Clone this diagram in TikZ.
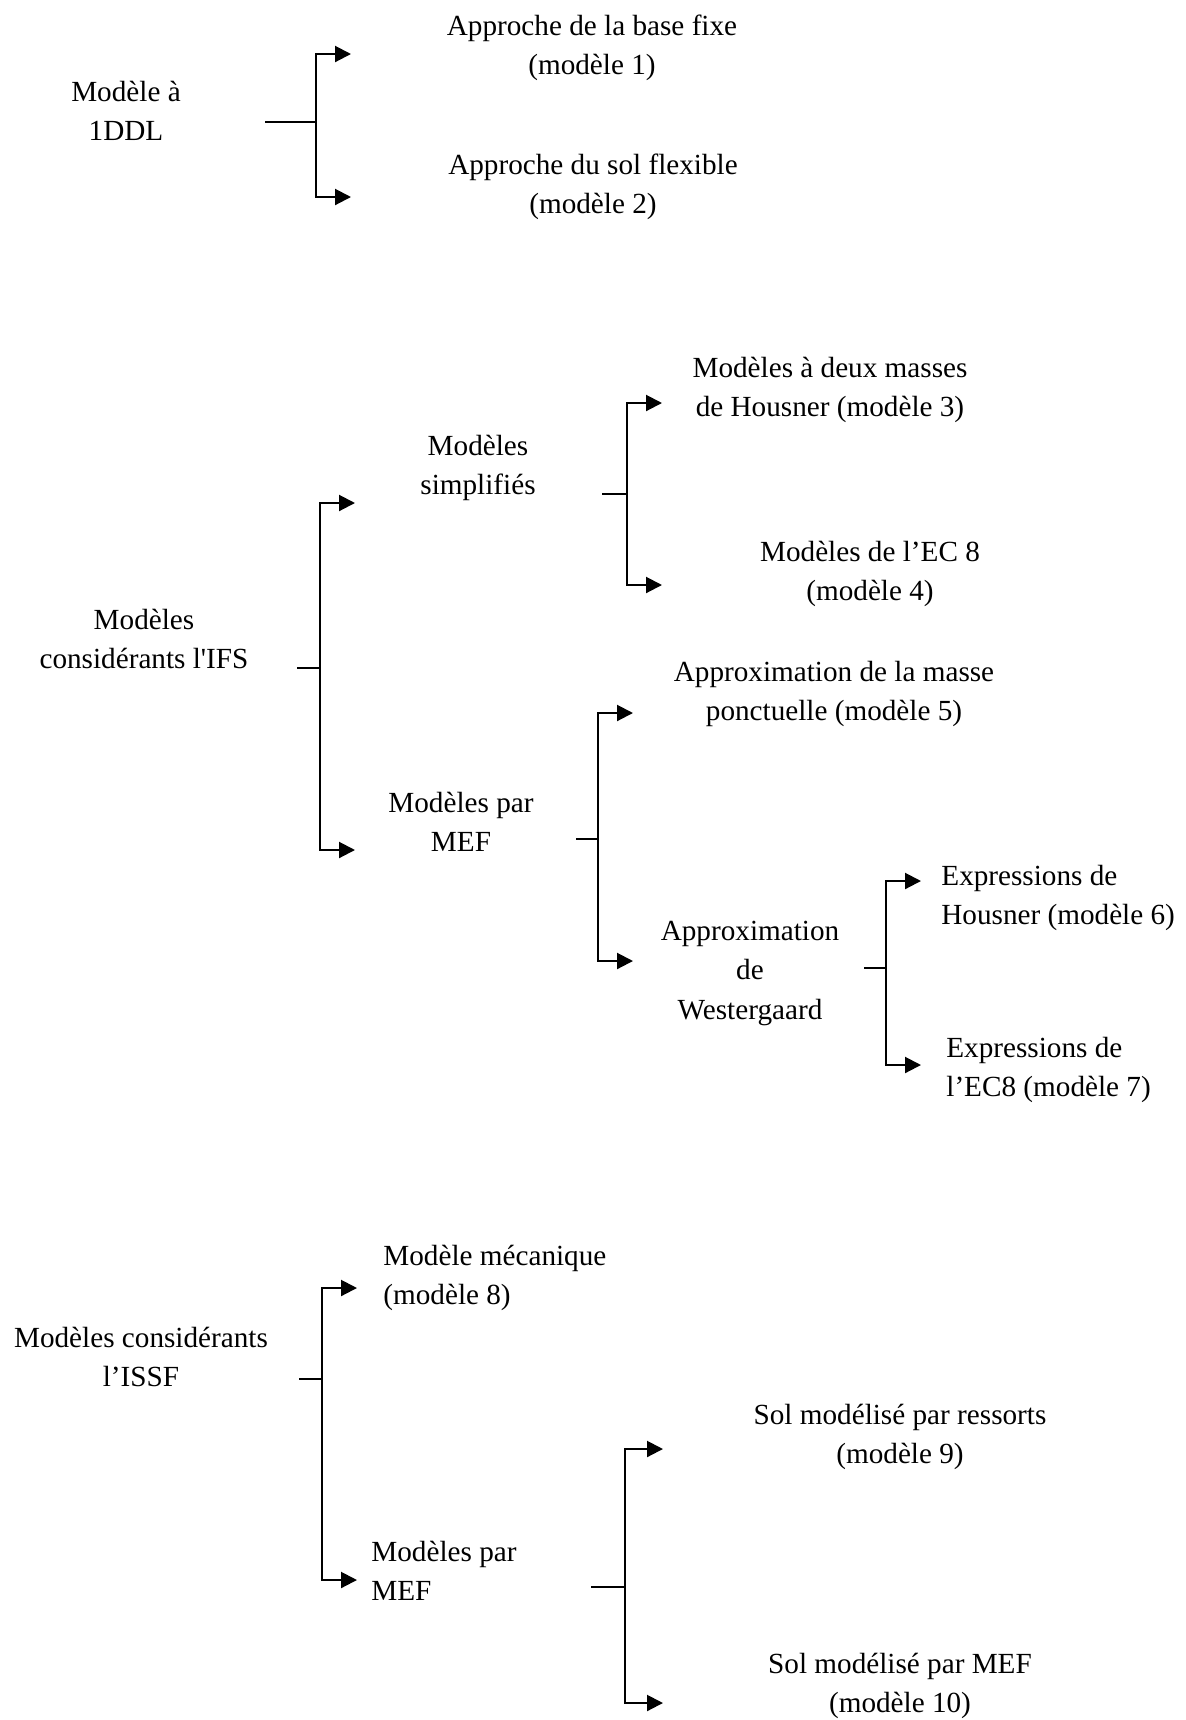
\documentclass[tikz,border=0pt]{standalone}
\usepackage{fontspec}
\setmainfont{Liberation Serif}
\usetikzlibrary{arrows.meta}
\begin{document}
\begin{tikzpicture}[x=0.5pt,y=-0.5pt,
  txt/.style={inner sep=0pt,align=center,font=\fontsize{14.6}{19.75}\selectfont},
  ltxt/.style={inner sep=0pt,align=left,anchor=west,font=\fontsize{14.6}{19.75}\selectfont},
  stub/.style={line width=0.65pt},
  brk/.style={line width=1.05pt,-{Triangle[length=8pt,width=8pt]}}]
\useasboundingbox[fill=white] (0,0) rectangle (1186,1720);

% ---------- Group 1 ----------
\node[txt] (n1) at (126,111) {Modèle à\\1DDL};
\node[txt] (t1) at (592,48) {Approche de la base fixe\\(modèle 1)};
\node[txt] (t2) at (593,187) {Approche du sol flexible\\(modèle 2)};
\coordinate (s1) at (265,122);
\coordinate (j1) at (316,122);
\coordinate (a1) at (351,54);
\coordinate (b1) at (351,197);
\draw[stub] (s1) -- (j1);
\draw[brk] (j1) |- (a1);
\draw[brk] (j1) |- (b1);

% ---------- Group 2 ----------
\node[txt] (n2) at (144,639) {Modèles\\considérants l\textquotesingle IFS};
\node[txt] (n3) at (478,468) {Modèles\\simplifiés};
\node[txt] (n4) at (461,822) {Modèles par\\MEF};
\coordinate (s2) at (297,668);
\coordinate (j2) at (320,668);
\coordinate (a2) at (355,503);
\coordinate (b2) at (355,850);
\draw[stub] (s2) -- (j2);
\draw[brk] (j2) |- (a2);
\draw[brk] (j2) |- (b2);

\node[txt] (t3) at (830,390) {Modèles à deux masses\\de Housner (modèle 3)};
\node[txt] (t4) at (870,574) {Modèles de l’EC 8\\(modèle 4)};
\coordinate (s3) at (602,494);
\coordinate (j3) at (627,494);
\coordinate (a3) at (662,403);
\coordinate (b3) at (662,585);
\draw[stub] (s3) -- (j3);
\draw[brk] (j3) |- (a3);
\draw[brk] (j3) |- (b3);

\node[txt] (t5) at (834,694) {Approximation de la masse\\ponctuelle (modèle 5)};
\node[txt] (n5) at (750,973) {Approximation\\de\\Westergaard};
\coordinate (s4) at (576,839);
\coordinate (j4) at (598,839);
\coordinate (a4) at (633,713);
\coordinate (b4) at (633,961);
\draw[stub] (s4) -- (j4);
\draw[brk] (j4) |- (a4);
\draw[brk] (j4) |- (b4);

\node[ltxt] (t6) at (941,898) {Expressions de\\Housner (modèle 6)};
\node[ltxt] (t7) at (946,1070) {Expressions de\\l’EC8 (modèle 7)};
\coordinate (s5) at (864,968);
\coordinate (j5) at (886,968);
\coordinate (a5) at (921,881);
\coordinate (b5) at (921,1065);
\draw[stub] (s5) -- (j5);
\draw[brk] (j5) |- (a5);
\draw[brk] (j5) |- (b5);

% ---------- Group 3 ----------
\node[txt] (n6) at (141,1357) {Modèles considérants\\l’ISSF};
\node[ltxt] (t8) at (383,1278) {Modèle mécanique\\(modèle 8)};
\node[ltxt] (n7) at (371,1571) {Modèles par\\MEF};
\coordinate (s6) at (299,1379);
\coordinate (j6) at (322,1379);
\coordinate (a6) at (357,1288);
\coordinate (b6) at (357,1580);
\draw[stub] (s6) -- (j6);
\draw[brk] (j6) |- (a6);
\draw[brk] (j6) |- (b6);

\node[txt] (t9) at (900,1437) {Sol modélisé par ressorts\\(modèle 9)};
\node[txt] (t10) at (900,1686) {Sol modélisé par MEF\\(modèle 10)};
\coordinate (s7) at (591,1587);
\coordinate (j7) at (625,1587);
\coordinate (a7) at (663,1449);
\coordinate (b7) at (663,1703);
\draw[stub] (s7) -- (j7);
\draw[brk] (j7) |- (a7);
\draw[brk] (j7) |- (b7);
\end{tikzpicture}
\end{document}
